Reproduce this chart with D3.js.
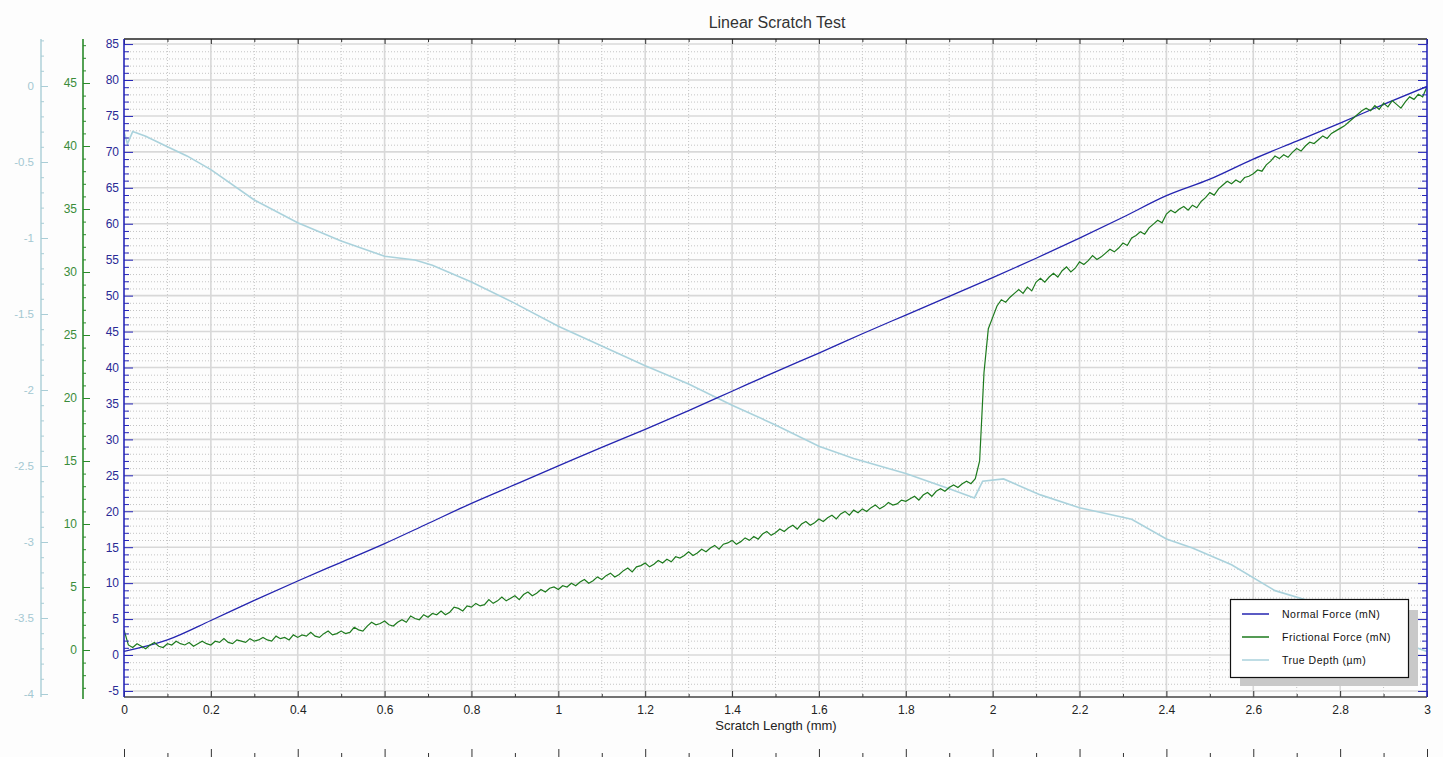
<!DOCTYPE html>
<html>
<head>
<meta charset="utf-8">
<script src="https://cdn.jsdelivr.net/npm/d3@7"></script>
<style>
  body { margin: 0; background: #fdfdfd; }
  svg { display: block; font-family: "Liberation Sans", Arial, sans-serif; }
</style>
</head>
<body>
<svg id="chart" width="1443" height="757"></svg>
<script>
// values
// Normal force (mN), one value every 0.1 mm
var normalForce = [0.5, 2.1, 4.8, 7.6, 10.3, 12.9, 15.5, 18.3, 21.1, 23.7,
    26.3, 28.9, 31.4, 34.0, 36.7, 39.4, 42.0, 44.7, 47.3, 49.9,
    52.5, 55.2, 58.0, 60.9, 63.9, 66.2, 69.0, 71.5, 74.0, 76.6, 79.1];

// Frictional force (mN), one value every 0.01 mm
var frictionalForce = [
    1.6, 0.4, 0.2, 0.5, 0.3, 0.1, 0.4, 0.6, 0.3, 0.2,
    0.5, 0.4, 0.7, 0.5, 0.4, 0.6, 0.3, 0.5, 0.7, 0.5,
    0.4, 0.7, 0.6, 0.9, 0.6, 0.5, 0.8, 0.7, 0.6, 0.9,
    0.7, 0.8, 1.0, 0.8, 0.7, 1.1, 0.9, 1.0, 0.8, 1.2,
    1.0, 1.2, 1.1, 1.4, 1.1, 1.0, 1.3, 1.5, 1.2, 1.3,
    1.5, 1.3, 1.4, 1.8, 1.6, 1.5, 1.9, 2.2, 2.0, 2.1,
    2.3, 2.0, 1.9, 2.2, 2.4, 2.2, 2.7, 2.5, 2.4, 2.8,
    2.6, 2.9, 2.8, 3.1, 2.8, 3.0, 3.4, 3.3, 3.1, 3.5,
    3.4, 3.7, 3.5, 3.6, 4.0, 3.7, 3.9, 4.2, 3.9, 4.1,
    4.3, 4.0, 4.4, 4.6, 4.3, 4.5, 4.8, 4.6, 4.9, 5.0,
    4.8, 5.1, 5.0, 5.3, 5.1, 5.4, 5.6, 5.3, 5.5, 5.8,
    5.6, 5.9, 6.1, 5.8, 6.0, 6.3, 6.5, 6.2, 6.6, 6.7,
    6.9, 6.6, 6.8, 7.1, 6.9, 7.2, 7.0, 7.4, 7.3, 7.5,
    7.8, 7.5, 7.7, 8.0, 7.8, 8.1, 8.3, 8.0, 8.4, 8.5,
    8.7, 8.4, 8.6, 8.9, 8.7, 9.0, 8.8, 9.2, 9.4, 9.1,
    9.3, 9.6, 9.4, 9.7, 9.9, 9.6, 10.0, 10.2, 9.9, 10.1,
    10.4, 10.2, 10.5, 10.7, 10.4, 10.8, 11.0, 10.7, 11.1, 10.9,
    11.2, 11.0, 11.3, 11.5, 11.2, 11.4, 11.7, 11.5, 11.6, 11.9,
    11.8, 12.0, 12.2, 11.9, 12.3, 12.5, 12.2, 12.6, 12.8, 12.6,
    12.9, 13.1, 12.9, 13.2, 13.4, 13.2, 13.6, 15.0, 22.0, 25.5,
    26.4, 27.3, 27.8, 27.6, 28.0, 28.3, 28.6, 28.3, 28.8, 28.5,
    29.2, 29.5, 29.2, 29.6, 29.9, 29.6, 30.1, 30.4, 30.0, 30.3,
    30.8, 30.6, 30.9, 31.3, 31.0, 31.2, 31.5, 31.8, 31.6, 31.9,
    32.3, 32.1, 32.7, 32.9, 33.2, 33.0, 33.5, 33.8, 34.1, 33.9,
    34.6, 34.9, 34.7, 35.0, 35.2, 34.9, 35.3, 35.1, 35.6, 35.9,
    36.3, 36.1, 36.6, 36.9, 37.2, 37.0, 37.3, 37.1, 37.5, 37.6,
    37.8, 38.1, 38.0, 38.5, 38.8, 39.2, 39.0, 39.3, 39.1, 39.5,
    39.8, 39.6, 40.0, 40.3, 40.2, 40.5, 40.8, 40.6, 41.0, 41.2,
    41.4, 41.6, 41.9, 42.2, 42.5, 42.8, 43.0, 42.8, 43.2, 42.9,
    43.4, 43.1, 43.6, 43.3, 43.0, 43.5, 43.9, 43.7, 44.1, 43.9,
    44.7];

// True depth (µm) at irregular scratch lengths
var depthLength = [0, 0.008, 0.02, 0.05, 0.1, 0.145, 0.2, 0.3, 0.4, 0.5,
    0.6, 0.67, 0.71, 0.8, 0.9, 1.0, 1.1, 1.2, 1.3, 1.4,
    1.5, 1.6, 1.68, 1.8, 1.9, 1.958, 1.977, 2.025, 2.11, 2.2,
    2.32, 2.4, 2.46, 2.55, 2.65, 2.72, 2.8, 2.9, 3.0];
var trueDepth = [-0.30, -0.38, -0.30, -0.33, -0.40, -0.46, -0.55, -0.75, -0.90, -1.02,
    -1.12, -1.145, -1.18, -1.29, -1.43, -1.58, -1.71, -1.84, -1.96, -2.10,
    -2.23, -2.37, -2.45, -2.55, -2.65, -2.71, -2.60, -2.585, -2.69, -2.775,
    -2.85, -2.98, -3.04, -3.15, -3.32, -3.38, -3.50, -3.62, -3.72];

var xTicks = [0, 0.2, 0.4, 0.6, 0.8, 1, 1.2, 1.4, 1.6, 1.8, 2, 2.2, 2.4, 2.6, 2.8, 3];
var normalTicks = [-5, 0, 5, 10, 15, 20, 25, 30, 35, 40, 45, 50, 55, 60, 65, 70, 75, 80, 85];
var frictionTicks = [0, 5, 10, 15, 20, 25, 30, 35, 40, 45];
var depthTicks = [0, -0.5, -1, -1.5, -2, -2.5, -3, -3.5, -4];

var seriesNames = ["Normal Force (mN)", "Frictional Force (mN)", "True Depth (\u00b5m)"];
var seriesColors = ["#2424b0", "#1d7a1d", "#aad2dc"];

var svg = d3.select("#chart");
var plotTop = 39, plotBottom = 697, plotLeft = 124, plotRight = 1427;

var x = d3.scaleLinear().domain([0, 3]).range([plotLeft, plotRight]);
var yN = d3.scaleLinear().domain([0, 80]).range([655, 80]);
var yF = d3.scaleLinear().domain([0, 45]).range([650, 83]);
var yD = d3.scaleLinear().domain([0, -4]).range([86, 694]);

// minor tick values
var xMinor = d3.range(1, 30, 2).map(d => d / 10);
var nMinor = d3.range(-5, 86).filter(d => d % 5 !== 0);
var fMinor = d3.range(-3, 49).filter(d => d % 5 !== 0);
var dMinor = d3.range(3, -41, -1).map(d => d / 10).filter(d => Math.round(d * 10) % 5 !== 0);

svg.append("rect").attr("width", 1443).attr("height", 757).attr("fill", "#fdfdfd");

// grid
var grid = svg.append("g");
grid.selectAll(".vmin").data(xMinor).enter().append("line")
    .attr("x1", d => x(d)).attr("x2", d => x(d))
    .attr("y1", plotTop).attr("y2", plotBottom)
    .attr("stroke", "#c4c4c4").attr("stroke-dasharray", "1,2");
grid.selectAll(".hmin").data(nMinor).enter().append("line")
    .attr("x1", plotLeft).attr("x2", plotRight)
    .attr("y1", d => yN(d) + 0.5).attr("y2", d => yN(d) + 0.5)
    .attr("stroke", "#c4c4c4").attr("stroke-dasharray", "1,2");
grid.selectAll(".vmaj").data(xTicks.slice(1, -1)).enter().append("line")
    .attr("x1", d => x(d)).attr("x2", d => x(d))
    .attr("y1", plotTop).attr("y2", plotBottom)
    .attr("stroke", "#d8d8d8").attr("stroke-width", 1.6);
grid.selectAll(".hmaj").data(normalTicks).enter().append("line")
    .attr("x1", plotLeft).attr("x2", plotRight)
    .attr("y1", d => yN(d)).attr("y2", d => yN(d))
    .attr("stroke", "#d8d8d8").attr("stroke-width", 1.6);

// series
svg.append("clipPath").attr("id", "clip")
    .append("rect").attr("x", plotLeft).attr("y", plotTop)
    .attr("width", plotRight - plotLeft).attr("height", plotBottom - plotTop);
var lines = svg.append("g").attr("clip-path", "url(#clip)");

lines.append("path").datum(trueDepth)
    .attr("fill", "none").attr("stroke", seriesColors[2]).attr("stroke-width", 1.6)
    .attr("d", d3.line().x((d, i) => x(depthLength[i])).y(d => yD(d)));
lines.append("path").datum(normalForce)
    .attr("fill", "none").attr("stroke", seriesColors[0]).attr("stroke-width", 1.3)
    .attr("d", d3.line().curve(d3.curveMonotoneX).x((d, i) => x(i * 0.1)).y(d => yN(d)));
lines.append("path").datum(frictionalForce)
    .attr("fill", "none").attr("stroke", seriesColors[1]).attr("stroke-width", 1.2)
    .attr("d", d3.line().x((d, i) => x(i * 0.01)).y(d => yF(d)));

function styleAxis(g, color, textColor) {
    g.select(".domain").remove();
    g.selectAll(".tick line").attr("stroke", color);
    g.selectAll(".tick text").attr("fill", textColor).style("font-size", "12px")
        .style("font-family", "\"Liberation Sans\", Arial, sans-serif");
}

// x axis (bottom, ticks pointing up)
var xg = svg.append("g").attr("transform", "translate(0," + plotBottom + ")")
    .call(d3.axisBottom(x).tickValues(xTicks).tickFormat(d => String(d))
        .tickSizeInner(-6).tickSizeOuter(0).tickPadding(8));
styleAxis(xg, "#333", "#222");
var xgm = svg.append("g").attr("transform", "translate(0," + plotBottom + ")")
    .call(d3.axisBottom(x).tickValues(xMinor).tickFormat("").tickSize(-3));
styleAxis(xgm, "#333", "#222");

// top border ticks
var tg = svg.append("g").attr("transform", "translate(0," + plotTop + ")")
    .call(d3.axisTop(x).tickValues(xTicks).tickFormat("").tickSize(-5));
styleAxis(tg, "#333", "#222");
var tgm = svg.append("g").attr("transform", "translate(0," + plotTop + ")")
    .call(d3.axisTop(x).tickValues(xMinor).tickFormat("").tickSize(-3));
styleAxis(tgm, "#333", "#222");

// second scale row at the very bottom
var bg = svg.append("g").attr("transform", "translate(0,757)")
    .call(d3.axisBottom(x).tickValues(xTicks).tickFormat("").tickSize(-8));
styleAxis(bg, "#333", "#222");
var bgm = svg.append("g").attr("transform", "translate(0,757)")
    .call(d3.axisBottom(x).tickValues(xMinor).tickFormat("").tickSize(-4));
styleAxis(bgm, "#333", "#222");

svg.append("line").attr("x1", plotLeft).attr("x2", plotRight)
    .attr("y1", plotTop).attr("y2", plotTop).attr("stroke", "#222").attr("stroke-width", 1.4);
svg.append("line").attr("x1", plotLeft).attr("x2", plotRight)
    .attr("y1", plotBottom).attr("y2", plotBottom).attr("stroke", "#444").attr("stroke-width", 1.4);

// normal force axis, left and right
var blue = "#2626b8";
var ng = svg.append("g").attr("transform", "translate(" + plotLeft + ",0)")
    .call(d3.axisLeft(yN).tickValues(normalTicks).tickFormat(d => String(d))
        .tickSizeInner(-9).tickSizeOuter(0).tickPadding(5));
styleAxis(ng, blue, "#2a2a96");
var ngm = svg.append("g").attr("transform", "translate(" + plotLeft + ",0)")
    .call(d3.axisLeft(yN).tickValues(nMinor).tickFormat("").tickSize(-5));
styleAxis(ngm, blue, blue);
var rg = svg.append("g").attr("transform", "translate(" + plotRight + ",0)")
    .call(d3.axisRight(yN).tickValues(normalTicks).tickFormat("").tickSize(-9));
styleAxis(rg, blue, blue);
var rgm = svg.append("g").attr("transform", "translate(" + plotRight + ",0)")
    .call(d3.axisRight(yN).tickValues(nMinor).tickFormat("").tickSize(-5));
styleAxis(rgm, blue, blue);
svg.append("line").attr("x1", plotLeft).attr("x2", plotLeft)
    .attr("y1", plotTop).attr("y2", plotBottom).attr("stroke", blue).attr("stroke-width", 1.6);
svg.append("line").attr("x1", plotRight).attr("x2", plotRight)
    .attr("y1", plotTop).attr("y2", plotBottom).attr("stroke", blue).attr("stroke-width", 1.6);

// frictional force axis
var green = "#2a8a2a";
var fx = 83;
var fg = svg.append("g").attr("transform", "translate(" + fx + ",0)")
    .call(d3.axisLeft(yF).tickValues(frictionTicks).tickFormat(d => String(d))
        .tickSizeInner(-7).tickSizeOuter(0).tickPadding(6));
styleAxis(fg, green, "#3a8c3a");
var fgm = svg.append("g").attr("transform", "translate(" + fx + ",0)")
    .call(d3.axisLeft(yF).tickValues(fMinor).tickFormat("").tickSize(-3));
styleAxis(fgm, green, green);
svg.append("line").attr("x1", fx).attr("x2", fx)
    .attr("y1", plotTop).attr("y2", 699).attr("stroke", green).attr("stroke-width", 1.6);

// true depth axis
var cyan = "#a9cdd6";
var dx = 41;
var dg = svg.append("g").attr("transform", "translate(" + dx + ",0)")
    .call(d3.axisLeft(yD).tickValues(depthTicks).tickFormat(d => String(d))
        .tickSizeInner(-7).tickSizeOuter(0).tickPadding(7));
styleAxis(dg, cyan, "#a4c8d2");
dg.selectAll(".tick text").style("font-size", "11.5px");
var dgm = svg.append("g").attr("transform", "translate(" + dx + ",0)")
    .call(d3.axisLeft(yD).tickValues(dMinor).tickFormat("").tickSize(-3));
styleAxis(dgm, cyan, cyan);
svg.append("line").attr("x1", dx).attr("x2", dx)
    .attr("y1", plotTop).attr("y2", plotBottom).attr("stroke", cyan).attr("stroke-width", 1.4);

// titles
svg.append("text").attr("x", 777).attr("y", 28).attr("text-anchor", "middle")
    .style("font-size", "16px").attr("fill", "#333").text("Linear Scratch Test");
svg.append("text").attr("x", 776).attr("y", 730).attr("text-anchor", "middle")
    .style("font-size", "13px").attr("fill", "#222").text("Scratch Length (mm)");

// legend
var legend = svg.append("g").attr("transform", "translate(1230,599)");
legend.append("rect").attr("x", 10).attr("y", 11).attr("width", 178).attr("height", 76)
    .attr("fill", "#c9c9c9");
legend.append("rect").attr("x", 0.5).attr("y", 0.5).attr("width", 178).attr("height", 78)
    .attr("fill", "#fff").attr("stroke", "#111").attr("stroke-width", 1.2);
var items = legend.selectAll(".item").data(seriesNames).enter().append("g")
    .attr("transform", (d, i) => "translate(0," + (15 + i * 23) + ")");
items.append("line").attr("x1", 12).attr("x2", 39).attr("y1", 0).attr("y2", 0)
    .attr("stroke", (d, i) => seriesColors[i]).attr("stroke-width", 1.5);
items.append("text").attr("x", 52).attr("y", 4)
    .style("font-size", "10.5px").style("letter-spacing", "0.5px")
    .attr("fill", "#111").text(d => d);
</script>
</body>
</html>
